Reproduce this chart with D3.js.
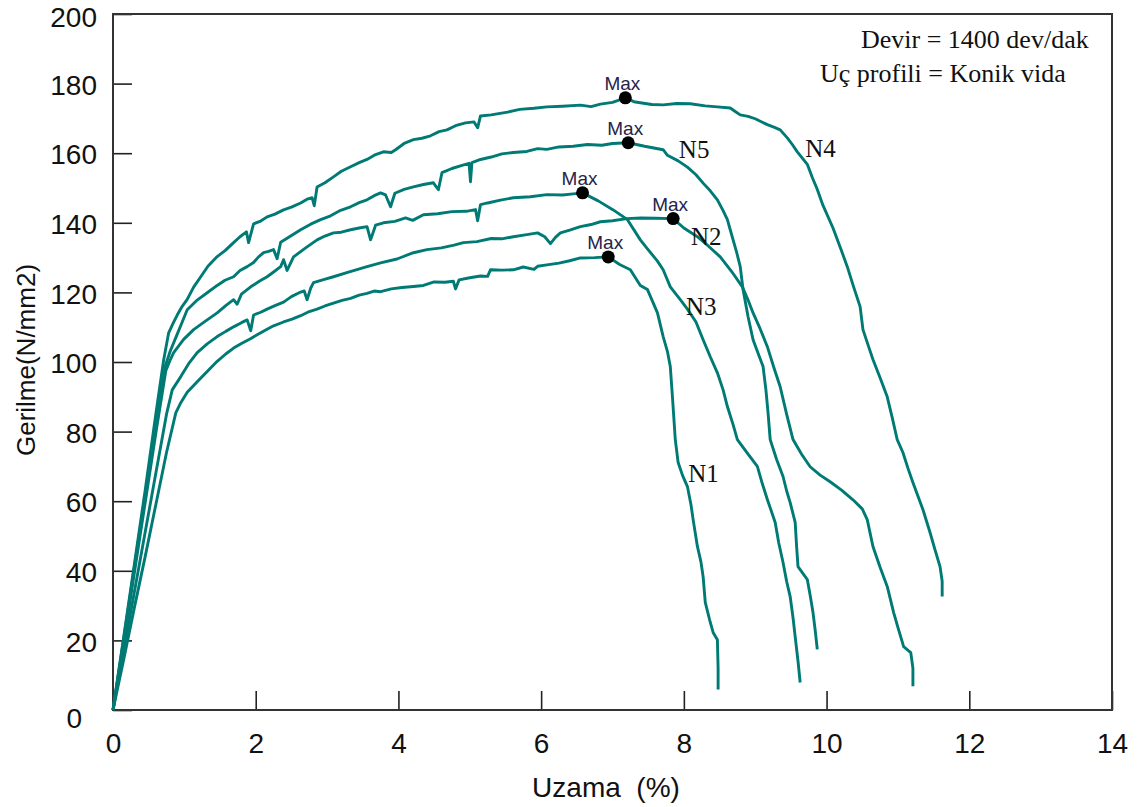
<!DOCTYPE html>
<html>
<head>
<meta charset="utf-8">
<script src="https://cdn.jsdelivr.net/npm/d3@7"></script>
<style>
  body { margin: 0; background: #fff; }
  svg { display: block; }
</style>
</head>
<body>
<div id="chart"></div>
<script>
// tick values
var xTicks = [0, 2, 4, 6, 8, 10, 12, 14];
var yTicks = [0, 20, 40, 60, 80, 100, 120, 140, 160, 180, 200];

// curves: [uzama %, gerilme N/mm2]
var curveN4 = [[0,0],[0.15,21],[0.3,42],[0.45,63],[0.6,85],[0.71,100.6],[0.78,108.4],[0.84,111],[0.9,113.5],[0.97,116],[1.04,118],[1.13,121.5],[1.23,124.5],[1.33,127.5],[1.46,130.3],[1.57,132],[1.69,134.3],[1.78,136],[1.87,137.4],[1.9,134.3],[1.97,139.7],[2.07,140.5],[2.16,141.7],[2.27,142.5],[2.39,143.7],[2.5,144.5],[2.63,145.7],[2.72,146.8],[2.79,147.2],[2.82,144.9],[2.86,150.3],[2.97,151.5],[3.09,153.2],[3.2,154.8],[3.33,156.1],[3.45,157.3],[3.56,158.2],[3.68,159.6],[3.79,160.4],[3.9,160.2],[3.96,161.0],[4.08,162.8],[4.21,163.9],[4.33,164.3],[4.45,165.0],[4.57,166.2],[4.68,166.7],[4.8,167.9],[4.94,168.7],[5.06,169],[5.11,167.3],[5.15,170.7],[5.3,171],[5.53,171.8],[5.7,172.6],[5.9,172.9],[6.08,173.3],[6.3,173.5],[6.55,173.8],[6.7,173.4],[6.83,174.1],[7.0,174.6],[7.18,175.9],[7.3,174.8],[7.39,174.5],[7.55,174.0],[7.71,173.9],[7.9,174.3],[8.09,174.2],[8.3,173.6],[8.47,173.3],[8.65,173.0],[8.72,172.0],[8.79,171.0],[8.9,170.6],[9.0,169.9],[9.1,168.9],[9.17,168.2],[9.27,167.4],[9.35,166.7],[9.45,164.4],[9.52,162.5],[9.59,160.4],[9.66,158.6],[9.73,156.8],[9.8,153],[9.87,149.6],[9.95,145],[10.09,138.5],[10.2,132.5],[10.29,127.4],[10.38,121.5],[10.47,115.9],[10.51,109.3],[10.58,105],[10.65,100.7],[10.75,95.5],[10.85,90.0],[10.92,84],[10.99,77.7],[11.07,74.0],[11.14,69.5],[11.21,65.4],[11.28,61.5],[11.35,57.6],[11.45,51.0],[11.52,46],[11.59,41.2],[11.62,37],[11.62,32.6]];

var curveN5 = [[0,0],[0.15,20.5],[0.3,41],[0.45,61.5],[0.6,82],[0.73,98.7],[0.8,103],[0.88,107],[0.96,111],[1.04,115.0],[1.18,117.8],[1.32,119.9],[1.46,122],[1.57,123.5],[1.69,124.5],[1.78,126.3],[1.88,127.4],[1.97,128.6],[2.04,130.2],[2.11,131.4],[2.18,131.8],[2.25,132.3],[2.30,129.7],[2.35,134.4],[2.49,136.2],[2.63,138.0],[2.77,139.6],[2.91,140.9],[3.05,142.0],[3.19,143.6],[3.33,144.6],[3.45,145.8],[3.56,146.6],[3.66,147.8],[3.75,148.6],[3.82,148],[3.89,144.6],[3.95,148.5],[4.08,149.6],[4.21,150.3],[4.35,151.0],[4.49,151.5],[4.56,149.5],[4.61,154.4],[4.75,155.6],[4.88,156.4],[4.99,157.1],[5.01,151.8],[5.03,157.3],[5.15,158.2],[5.3,158.9],[5.45,159.8],[5.61,160.2],[5.8,160.5],[5.95,161.3],[6.08,161.1],[6.25,161.8],[6.45,162.0],[6.65,162.5],[6.85,162.3],[7.0,162.8],[7.22,163.0],[7.45,162.0],[7.71,161.0],[7.77,159.4],[7.92,157.8],[8.05,156.0],[8.17,153.8],[8.27,151.4],[8.37,149.2],[8.47,146.6],[8.55,143.5],[8.61,140.9],[8.65,138],[8.69,135.1],[8.74,131.5],[8.79,127.4],[8.83,120.8],[8.9,113],[8.97,106.4],[9.04,102.5],[9.11,98.7],[9.15,92],[9.18,85.4],[9.21,77.7],[9.3,72],[9.39,67.1],[9.44,63],[9.49,59.6],[9.56,53.9],[9.58,47],[9.60,41.2],[9.66,39.5],[9.73,37.5],[9.77,33],[9.81,28.0],[9.84,23],[9.87,17.4]];

var curveN3 = [[0,0],[0.15,19.5],[0.3,39.5],[0.45,59.5],[0.6,79.5],[0.74,97.5],[0.8,100.5],[0.85,102.7],[0.99,106.5],[1.13,109.3],[1.3,111.8],[1.46,114.1],[1.58,116.2],[1.69,117.9],[1.74,116.6],[1.8,119.5],[1.93,121.6],[2.05,123.2],[2.16,124.5],[2.26,126],[2.35,127.4],[2.39,129.4],[2.44,126.3],[2.53,130.2],[2.7,132.8],[2.86,135.1],[2.97,136.2],[3.09,137.1],[3.2,137.3],[3.33,138.0],[3.45,138.5],[3.56,138.9],[3.61,135.1],[3.68,139.3],[3.79,140.0],[3.95,140.4],[4.1,141.4],[4.2,140.7],[4.35,142.3],[4.55,142.6],[4.75,143.2],[4.95,143.3],[5.08,143.8],[5.11,140.6],[5.15,145.2],[5.25,145.7],[5.43,146.5],[5.61,147.2],[5.85,147.5],[6.08,148.1],[6.3,148.0],[6.45,148.3],[6.58,148.6],[6.8,146.3],[7.01,143.7],[7.21,140.9],[7.39,135.1],[7.49,132.5],[7.63,129],[7.71,126.5],[7.81,121.6],[7.95,117.9],[8.05,115.2],[8.17,111.5],[8.27,106.4],[8.37,101.5],[8.47,96.9],[8.55,92],[8.61,87.2],[8.69,82],[8.75,77.7],[8.9,73.5],[9.03,70.0],[9.1,65],[9.17,60.5],[9.28,53.9],[9.33,48],[9.39,42.4],[9.44,37],[9.49,32.6],[9.53,26.5],[9.56,21.1],[9.6,14],[9.63,7.9]];

var curveN2 = [[0,0],[0.15,17],[0.3,34],[0.45,51],[0.6,68],[0.75,85],[0.83,92],[0.95,95.8],[1.06,99.5],[1.18,102.7],[1.32,105.2],[1.46,107.3],[1.58,108.8],[1.69,110.1],[1.8,111.3],[1.88,112.1],[1.93,109.0],[1.97,113.5],[2.07,114.3],[2.16,115.2],[2.27,116.2],[2.39,117.2],[2.5,118.8],[2.63,120.1],[2.68,120.4],[2.72,117.9],[2.77,121.2],[2.81,122.8],[2.95,123.7],[3.09,124.5],[3.3,125.8],[3.56,127.4],[3.75,128.5],[3.98,129.6],[4.21,131.4],[4.4,132.3],[4.6,132.8],[4.78,133.6],[4.91,134.3],[5.1,134.6],[5.3,135.5],[5.45,135.4],[5.61,136.0],[5.8,136.6],[5.95,137.1],[6.05,136],[6.13,134.0],[6.2,135.8],[6.27,137.1],[6.4,137.9],[6.55,138.9],[6.7,139.5],[6.83,140.3],[7.0,140.6],[7.2,141.2],[7.4,141.4],[7.6,141.3],[7.85,141.2],[8.0,138.5],[8.19,136.0],[8.35,133.2],[8.51,130.2],[8.67,126],[8.82,121.6],[8.9,117.8],[8.97,114.1],[9.07,109.5],[9.17,104.4],[9.26,98.5],[9.35,92.9],[9.44,85],[9.53,77.7],[9.65,73.5],[9.77,69.9],[9.91,67.5],[10.05,65.6],[10.21,63.2],[10.37,60.4],[10.5,57.8],[10.57,54.7],[10.65,47.0],[10.75,41],[10.85,35.5],[10.94,28.0],[11.01,23],[11.08,18.2],[11.18,16.5],[11.21,12],[11.21,6.8]];

var curveN1 = [[0,0],[0.15,14.5],[0.3,29.5],[0.45,44],[0.6,59],[0.75,74],[0.88,85.4],[0.95,88.3],[1.04,91.3],[1.18,94.3],[1.32,97.3],[1.46,100.2],[1.58,102.3],[1.69,104.0],[1.8,105.3],[1.92,106.6],[2.02,107.8],[2.14,109.2],[2.25,110.4],[2.39,111.5],[2.51,112.3],[2.63,113.3],[2.75,114.5],[2.86,115.2],[2.97,116.1],[3.09,116.9],[3.21,117.7],[3.33,118.3],[3.45,119.2],[3.56,119.7],[3.66,120.4],[3.75,120.2],[3.9,121.0],[4.05,121.4],[4.21,121.7],[4.35,122.0],[4.5,123.0],[4.65,122.9],[4.77,123.2],[4.8,121.0],[4.85,123.6],[5.0,124.2],[5.15,124.7],[5.25,124.6],[5.29,126.5],[5.45,126.4],[5.61,126.5],[5.75,127.3],[5.9,126.6],[5.95,127.5],[6.08,127.9],[6.25,128.4],[6.4,129.1],[6.55,129.9],[6.75,130.0],[6.94,130.2],[7.1,128],[7.25,126.5],[7.39,122],[7.49,120.8],[7.57,117],[7.63,114.1],[7.71,107.3],[7.77,103],[7.81,98.7],[7.84,90.0],[7.88,77.7],[7.92,71.1],[7.98,67.5],[8.05,64.2],[8.1,59],[8.13,54.7],[8.19,47.0],[8.24,42.5],[8.27,38.3],[8.30,30.9],[8.36,26],[8.41,22.3],[8.47,20.2],[8.48,12],[8.48,5.9]];

var curves = [curveN1, curveN2, curveN3, curveN4, curveN5];

// max points of each sample
var maxNames = ["N4", "N5", "N3", "N2", "N1"];
var maxX = [7.18, 7.22, 6.58, 7.85, 6.94];
var maxY = [175.9, 163.0, 148.6, 141.2, 130.2];

// curve labels, anchored at data coordinates
var labelNames = ["N5", "N4", "N2", "N3", "N1"];
var labelX = [7.93, 9.70, 8.10, 8.03, 8.06];
var labelY = [158.7, 159.0, 133.7, 113.6, 65.6];

var notes = ["Devir = 1400 dev/dak", "Uç profili = Konik vida"];

var margin = { top: 14, right: 25, bottom: 97, left: 113 };
var width = 1137 - margin.left - margin.right;
var height = 807 - margin.top - margin.bottom;
var teal = "#007a74";

var svg = d3
  .select("div#chart")
  .append("svg")
  .attr("width", 1137)
  .attr("height", 807);

var g = svg.append("g")
  .attr("transform", "translate(" + margin.left + "," + margin.top + ")");

var x = d3.scaleLinear().domain([0, 14]).range([0, width]);
var y = d3.scaleLinear().domain([0, 200]).range([height, 0]);

// axes with inward ticks
var xAxis = g.append("g")
  .attr("transform", "translate(0," + height + ")")
  .call(d3.axisBottom(x).tickValues(xTicks).tickSize(-19).tickPadding(23).tickFormat(d3.format("d")));

var yAxis = g.append("g")
  .call(d3.axisLeft(y).tickValues(yTicks).tickSize(-19).tickPadding(16).tickFormat(d3.format("d")));

[xAxis, yAxis].forEach(function (ax) {
  ax.select(".domain").remove();
  ax.selectAll(".tick line").attr("stroke", "#222").attr("stroke-width", 1.6);
  ax.selectAll(".tick text")
    .attr("fill", "#111")
    .style("font-family", "'Liberation Sans', Arial, sans-serif")
    .style("font-size", "28px");
});

yAxis.selectAll(".tick text").attr("dy", "0.38em");

// the 0 of the y axis sits lower and further left, the 200 a bit lower
yAxis.selectAll(".tick text")
  .filter(function (d) { return d === 0; })
  .attr("x", -31)
  .attr("dy", "0.62em");
yAxis.selectAll(".tick text")
  .filter(function (d) { return d === 200; })
  .attr("dy", "0.46em");

// frame
g.append("rect")
  .attr("x", 0)
  .attr("y", 0)
  .attr("width", width)
  .attr("height", height)
  .attr("fill", "none")
  .attr("stroke", "#333")
  .attr("stroke-width", 2);

// curves
var line = d3.line()
  .x(function (d) { return x(d[0]); })
  .y(function (d) { return y(d[1]); });

g.append("g")
  .selectAll("path")
  .data(curves)
  .enter()
  .append("path")
  .attr("d", line)
  .attr("fill", "none")
  .attr("stroke", teal)
  .attr("stroke-width", 2.9)
  .attr("stroke-linejoin", "round");

// max markers
var maxG = g.append("g")
  .selectAll("g")
  .data(maxNames)
  .enter()
  .append("g")
  .attr("transform", function (d, i) {
    return "translate(" + x(maxX[i]) + "," + y(maxY[i]) + ")";
  });

maxG.append("circle")
  .attr("r", 6.5)
  .attr("fill", "#000");

maxG.append("text")
  .attr("x", -3)
  .attr("y", -8)
  .attr("text-anchor", "middle")
  .style("font-family", "'Liberation Sans', Arial, sans-serif")
  .style("font-size", "19px")
  .attr("fill", "#26234a")
  .text("Max");

// curve names
g.append("g")
  .selectAll("text")
  .data(labelNames)
  .enter()
  .append("text")
  .attr("x", function (d, i) { return x(labelX[i]); })
  .attr("y", function (d, i) { return y(labelY[i]); })
  .style("font-family", "'Liberation Serif', 'Times New Roman', serif")
  .style("font-size", "25px")
  .attr("fill", "#111")
  .text(function (d) { return d; });

// test conditions
svg.append("text")
  .attr("x", 861)
  .attr("y", 48)
  .style("font-family", "'Liberation Serif', 'Times New Roman', serif")
  .style("font-size", "26px")
  .attr("fill", "#111")
  .text(notes[0]);

svg.append("text")
  .attr("x", 820)
  .attr("y", 82)
  .style("font-family", "'Liberation Serif', 'Times New Roman', serif")
  .style("font-size", "26px")
  .attr("fill", "#111")
  .text(notes[1]);

// axis titles
svg.append("text")
  .attr("x", 606)
  .attr("y", 797)
  .attr("text-anchor", "middle")
  .style("font-family", "'Liberation Sans', Arial, sans-serif")
  .style("font-size", "28px")
  .style("white-space", "pre")
  .attr("fill", "#111")
  .text("Uzama  (%)");

svg.append("text")
  .attr("transform", "translate(35,360) rotate(-90)")
  .attr("text-anchor", "middle")
  .style("font-family", "'Liberation Sans', Arial, sans-serif")
  .style("font-size", "26px")
  .attr("fill", "#111")
  .text("Gerilme(N/mm2)");
</script>
</body>
</html>
